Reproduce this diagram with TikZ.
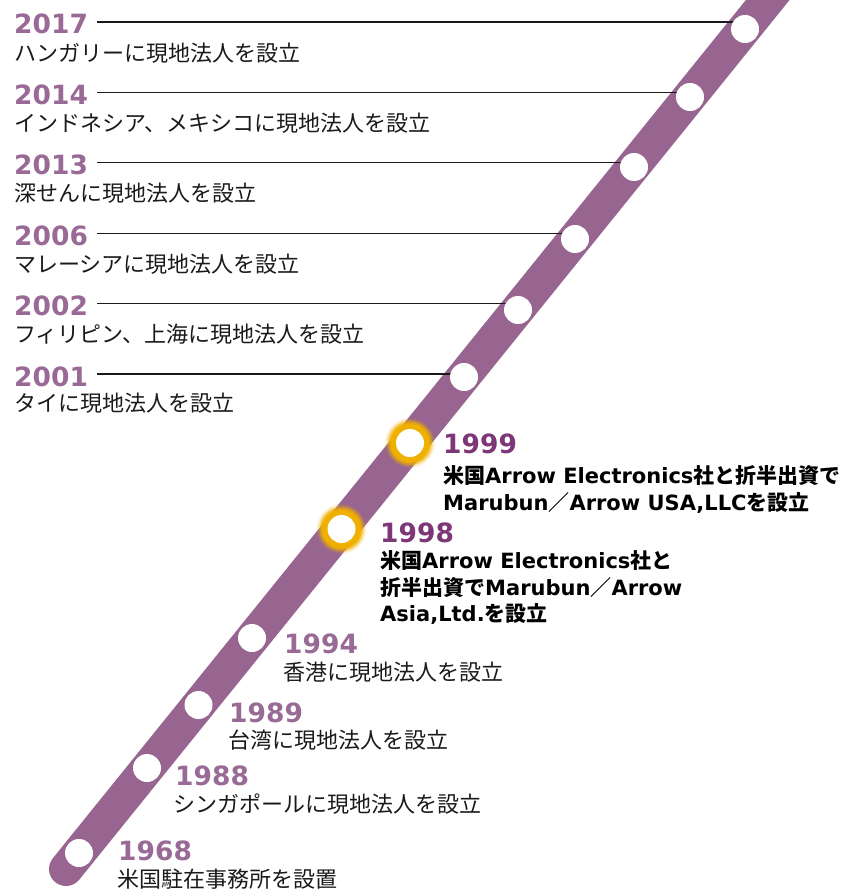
\documentclass[tikz,border=0pt]{standalone}
\usepackage{fontspec}
\newfontfamily\jp{Noto Sans CJK JP}
\newfontfamily\latn{DejaVu Sans}
\definecolor{bandc}{HTML}{976590}
\definecolor{yrc}{HTML}{9A6A96}
\definecolor{yrd}{HTML}{7D3677}
\definecolor{goldc}{HTML}{F0B000}
\definecolor{ink}{HTML}{1A1A1A}
\begin{document}
\begin{tikzpicture}[x=1pt,y=-1pt,
 yrlab/.style={anchor=base west,inner sep=0,text=yrc,font=\latn\bfseries\fontsize{26.5}{26.5}\selectfont},
 yrhi/.style={yrlab,text=yrd},
 jtxt/.style={anchor=base west,inner sep=0,text=ink,font=\jp\fontsize{22}{22}\selectfont},
 btxt/.style={anchor=base west,inner sep=0,text=black,font=\jp\bfseries\fontsize{21}{21}\selectfont},
 dot/.style={circle,fill=white,inner sep=0,minimum size=28},
 lead/.style={draw=ink,line width=1.1},
 bandline/.style={draw=bandc,line width=34,line cap=round}]
\useasboundingbox (0,0) rectangle (853,893);
\clip (0,0) rectangle (853,893);
% band
\coordinate (bandS) at (66,869);
\coordinate (bandE) at (800,-40);
\draw[bandline] (bandS) -- (bandE);
% circle positions
\coordinate (p2017) at (745,29);
\coordinate (p2014) at (690,97);
\coordinate (p2013) at (634,167);
\coordinate (p2006) at (575,239);
\coordinate (p2002) at (518,310);
\coordinate (p2001) at (464,377);
\coordinate (p1999) at (410,443);
\coordinate (p1998) at (341.5,529);
\coordinate (p1994) at (252,638);
\coordinate (p1989) at (198.5,705);
\coordinate (p1988) at (147,768);
\coordinate (p1968) at (79,853);
% upper labels
\node[yrlab] (y2017) at (14,34) {2017};
\node[jtxt] (t2017) at (14,61.5) {ハンガリーに現地法人を設立};
\node[yrlab] (y2014) at (14,104.4) {2014};
\node[jtxt] (t2014) at (14,131.5) {インドネシア、メキシコに現地法人を設立};
\node[yrlab] (y2013) at (14,174.8) {2013};
\node[jtxt] (t2013) at (14,201.8) {深せんに現地法人を設立};
\node[yrlab] (y2006) at (14,245.2) {2006};
\node[jtxt] (t2006) at (14,272) {マレーシアに現地法人を設立};
\node[yrlab] (y2002) at (14,315.6) {2002};
\node[jtxt] (t2002) at (14,342.6) {フィリピン、上海に現地法人を設立};
\node[yrlab] (y2001) at (14,386) {2001};
\node[jtxt] (t2001) at (14,411) {タイに現地法人を設立};
% leaders
\foreach \k in {2017,2014,2013,2006,2002,2001}{
  \coordinate (l\k) at ([yshift=12pt]y\k.base east);
  \draw[lead] ([xshift=9pt]l\k) -- (l\k -| p\k);
}
% glows
\foreach \k in {1999,1998}{
  \fill[goldc,opacity=.12] (p\k) circle (25);
  \fill[goldc,opacity=.25] (p\k) circle (23.5);
  \fill[goldc,opacity=.45] (p\k) circle (22);
  \fill[goldc,opacity=.7] (p\k) circle (20.5);
  \fill[goldc] (p\k) circle (19);
}
% circles
\foreach \k in {2017,2014,2013,2006,2002,2001,1999,1998,1994,1989,1988,1968}{
  \node[dot] (c\k) at (p\k) {};
}
% 1999
\node[yrhi] (y1999) at (443,453) {1999};
\node[btxt] (t1999a) at (443,483) {米国{\latn\bfseries Arrow Electronics}社と折半出資で};
\node[btxt] (t1999b) at (443,510) {{\latn\bfseries Marubun}／{\latn\bfseries Arrow USA,LLC}を設立};
% 1998
\node[yrhi] (y1998) at (380,542) {1998};
\node[btxt] (t1998a) at (380,568) {米国{\latn\bfseries Arrow Electronics}社と};
\node[btxt] (t1998b) at (380,595) {折半出資で{\latn\bfseries Marubun}／{\latn\bfseries Arrow}};
\node[btxt] (t1998c) at (380,621) {{\latn\bfseries Asia,Ltd.}を設立};
% lower
\node[yrlab] (y1994) at (284,653) {1994};
\node[jtxt] (t1994) at (283,680.5) {香港に現地法人を設立};
\node[yrlab] (y1989) at (229,722) {1989};
\node[jtxt] (t1989) at (228,748) {台湾に現地法人を設立};
\node[yrlab] (y1988) at (175,785) {1988};
\node[jtxt] (t1988) at (173,812) {シンガポールに現地法人を設立};
\node[yrlab] (y1968) at (118,860) {1968};
\node[jtxt] (t1968) at (117,887) {米国駐在事務所を設置};
\end{tikzpicture}
\end{document}
